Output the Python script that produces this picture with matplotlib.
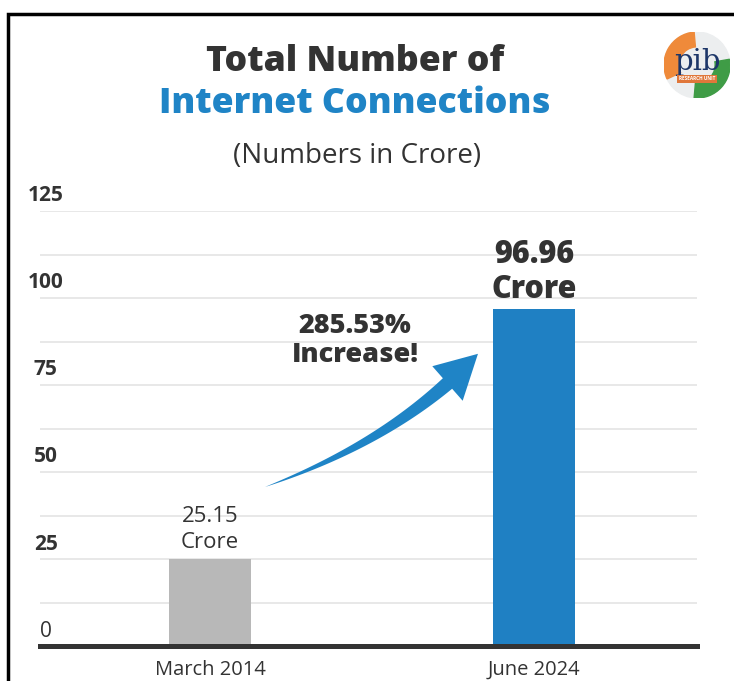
import matplotlib.pyplot as plt
import numpy as np
from matplotlib.patches import Polygon, Rectangle, Circle, Wedge

plt.rcParams['font.family'] = ['Open Sans', 'DejaVu Sans']

periods = ['March 2014', 'June 2024']
connections = [25.15, 96.96]
bar_colors = ['#b8b8b8', '#1f80c3']
y_ticks = [0, 25, 50, 75, 100, 125]

dark = '#333333'
blue = '#1f84c6'


def curved_arrow(ax, start, ctrl, end, tail_w=14, head_w=46, head_len=42, color=blue):
    # tapered quadratic-bezier arrow, widths in pixels
    p0, p1, p2 = ax.transData.transform([start, ctrl, end])
    t = np.linspace(0, 1, 400)[:, None]
    curve = (1 - t) ** 2 * p0 + 2 * (1 - t) * t * p1 + t ** 2 * p2
    seg = np.hypot(*np.diff(curve, axis=0).T)
    s = np.concatenate([[0], np.cumsum(seg)])
    keep = s <= s[-1] - head_len
    body = curve[keep]
    sb = s[keep]
    d = np.gradient(body, axis=0)
    d /= np.hypot(d[:, 0], d[:, 1])[:, None]
    n = np.column_stack([-d[:, 1], d[:, 0]])
    w = tail_w / 2 * (sb / sb[-1]) ** 0.9
    left = body + n * w[:, None]
    right = body - n * w[:, None]
    base = body[-1]
    nb = n[-1]
    head = [base + nb * head_w / 2, curve[-1], base - nb * head_w / 2]
    pts = np.vstack([left, head, right[::-1]])
    pts = ax.transData.inverted().transform(pts)
    ax.add_patch(Polygon(pts, closed=True, color=color, lw=0, zorder=5))


fig = plt.figure(figsize=(7.34, 6.81), dpi=100)
ax = fig.add_axes([0.0545, 0.0507, 0.895, 0.6395])

x = np.arange(len(periods))
ax.bar(x, connections, width=0.253, color=bar_colors, zorder=3)
ax.set_xlim(-0.525, 1.503)
ax.set_ylim(0, 125)
for sp in ax.spines.values():
    sp.set_visible(False)
ax.set_xticks([])
ax.set_yticks([])

for g in np.arange(12.5, 126, 12.5):
    ax.axhline(g, color='#e6e6e6', lw=1.3, zorder=1)
ax.axhline(0, color=dark, lw=3.6, zorder=4, clip_on=False)

# y labels sit above their gridlines
for tk in y_ticks:
    ax.annotate(str(tk), xy=(0.009, tk), xycoords=('axes fraction', 'data'),
                xytext=(0, 11), textcoords='offset points', ha='center', va='center',
                fontsize=15, color=dark, fontweight='normal' if tk == 0 else 'bold')

for xi, lab in zip(x, periods):
    ax.annotate(lab, xy=(xi, 0), xytext=(0, -17), textcoords='offset points',
                ha='center', va='center', fontsize=14.5, color=dark)

# value labels
for xi, v in zip(x, connections):
    bold = v == max(connections)
    ax.annotate(f'{v:.2f}\nCrore', xy=(xi, v), xytext=(0, 2 if bold else 4),
                textcoords='offset points', ha='center', va='bottom',
                fontsize=22 if bold else 16, linespacing=1.12 if bold else 1.35,
                color=dark, fontweight='heavy' if bold else 'normal')

pct = (connections[1] - connections[0]) / connections[0] * 100
ax.text(0.448, 87.7, f'{pct:.2f}%\nIncrease!', ha='center', va='center',
        fontsize=19.5, fontweight='heavy', color=dark, linespacing=1.15)

curved_arrow(ax, (0.17, 45.8), (0.586, 59.8), (0.827, 84.0))

# titles
fig.text(355 / 734, 1 - 62 / 681, 'Total Number of', ha='center', va='center',
         fontsize=25.7, fontweight='heavy', color=dark)
fig.text(355 / 734, 1 - 104 / 681, 'Internet Connections', ha='center', va='center',
         fontsize=25.7, fontweight='heavy', color=blue)
fig.text(357 / 734, 1 - 156 / 681, '(Numbers in Crore)', ha='center', va='center',
         fontsize=20, color=dark)

# outer frame
fig.patches.append(Rectangle((8 / 734, -0.1), 1.0, 1 - 14 / 681 + 0.1,
                             transform=fig.transFigure, fill=False,
                             ec='black', lw=2.5))

# logo badge
lax = fig.add_axes([664 / 734, 1 - 98 / 681, 66 / 734, 66 / 681])
lax.set_xlim(-1, 1)
lax.set_ylim(-1, 1)
lax.set_aspect('equal')
lax.axis('off')
lax.add_patch(Circle((0, 0), 1, color='#eceeef'))
lax.add_patch(Wedge((0, 0), 1, 95, 205, width=0.45, color='#ef8a3a'))
lax.add_patch(Wedge((0, 0), 1, -95, 10, width=0.45, color='#3f9c46'))
lax.text(0, 0.1, 'pib', ha='center', va='center', fontsize=21,
         color='#1d3668', family='DejaVu Serif')
lax.text(0, -0.42, 'RESEARCH UNIT', ha='center', va='center', fontsize=3.4,
         color='white', fontweight='bold',
         bbox=dict(boxstyle='square,pad=0.3', fc='#e0773a', ec='none'))

fig.savefig('out.png', dpi=100)
